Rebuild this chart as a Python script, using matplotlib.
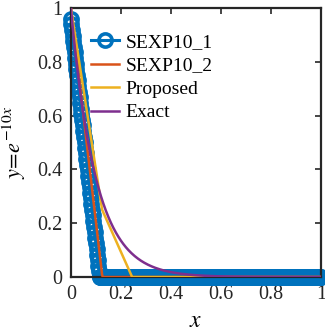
"""
Piecewise-linear approximations of exp(-10x) compared with the exact curve.
"""

import matplotlib as mpl
import matplotlib.pyplot as plt
import numpy as np

mpl.rcParams["font.family"] = ["Liberation Serif", "DejaVu Serif"]
mpl.rcParams["mathtext.fontset"] = "stix"

# sample grid used for every series
x_step = 0.0025
x_start, x_end = 0.0, 1.0

# breakpoints of each approximation (x, y)
sexp1_knots_x = [0.0, 0.115, 1.0]
sexp1_knots_y = [0.96, 0.0, 0.0]
sexp2_knots_x = [0.0, 0.126, 1.0]
sexp2_knots_y = [1.0, 0.0, 0.0]
proposed_knots_x = [0.0, 0.125, 0.245, 1.0]
proposed_knots_y = [1.0, 0.25, 0.0, 0.0]
exact_rate = -10.0

series_labels = ["SEXP10_1", "SEXP10_2", "Proposed", "Exact"]
series_colors = ["#0072BD", "#D95319", "#EDB120", "#7E2F8E"]
tick_values = [0, 0.2, 0.4, 0.6, 0.8, 1]
tick_labels = ["0", "0.2", "0.4", "0.6", "0.8", "1"]

x = np.arange(x_start, x_end + x_step / 2, x_step)
y_sexp1 = np.interp(x, sexp1_knots_x, sexp1_knots_y)
y_sexp2 = np.interp(x, sexp2_knots_x, sexp2_knots_y)
y_proposed = np.interp(x, proposed_knots_x, proposed_knots_y)
y_exact = np.exp(exact_rate * x)

fig = plt.figure(figsize=(3.25, 3.31), dpi=100)
ax = fig.add_axes([0.218, 0.163, 0.77, 0.813])

ax.plot(x, y_sexp1, color=series_colors[0], marker="o", markersize=9.5,
        markerfacecolor="none", markeredgewidth=2.6, linewidth=2.2,
        label=series_labels[0], clip_on=False, zorder=2)
ax.plot(x, y_sexp2, color=series_colors[1], linewidth=1.8,
        label=series_labels[1], zorder=3)
ax.plot(x, y_proposed, color=series_colors[2], linewidth=1.8,
        label=series_labels[2], zorder=4)
ax.plot(x, y_exact, color=series_colors[3], linewidth=1.8,
        label=series_labels[3], zorder=5)

ax.set_xlim(0, 1)
ax.set_ylim(0, 1)
ax.set_xticks(tick_values)
ax.set_xticklabels(tick_labels)
ax.set_yticks(tick_values)
ax.set_yticklabels(tick_labels)
ax.tick_params(direction="in", length=4, width=1.2, labelsize=14.5,
               top=True, right=True, colors="#262626", pad=6)
for spine in ax.spines.values():
    spine.set_linewidth(1.6)
    spine.set_color("#262626")

ax.set_xlabel(r"$x$", fontsize=17)
ax.xaxis.set_label_coords(0.5, -0.125)
ax.set_ylabel(r"$y\!=\!e^{-10x}$", fontsize=16)
ax.yaxis.set_label_coords(-0.17, 0.5)

ax.legend(loc="upper left", bbox_to_anchor=(0.08, 0.905), frameon=False,
          fontsize=14, handlelength=1.45, handletextpad=0.35,
          labelspacing=0.3, borderaxespad=0, borderpad=0)

fig.savefig("out.png", dpi=100)
